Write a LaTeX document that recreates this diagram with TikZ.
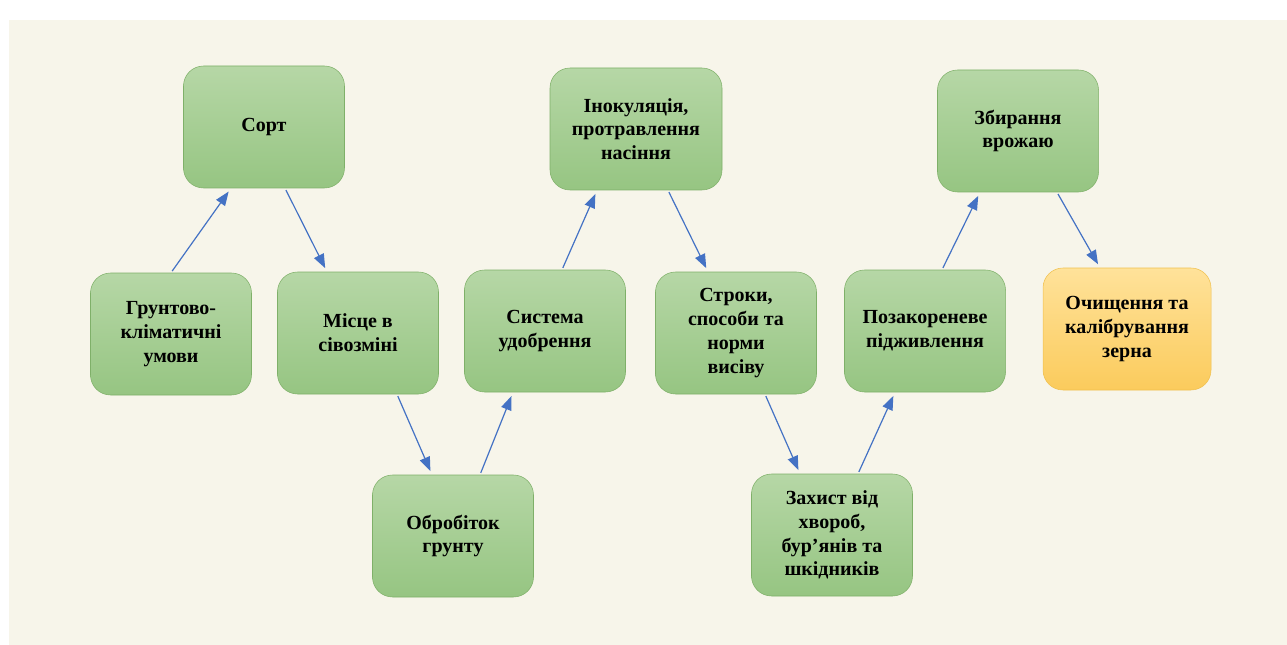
\documentclass[tikz,border=0pt]{standalone}
\usepackage{fontspec}
\setmainfont{Liberation Serif}
\usetikzlibrary{arrows.meta}
\definecolor{bgcream}{HTML}{F7F5EA}
\definecolor{stagetop}{HTML}{B6D7A6}
\definecolor{stagebot}{HTML}{96C582}
\definecolor{stageline}{HTML}{7FB069}
\definecolor{lasttop}{HTML}{FFE29A}
\definecolor{lastbot}{HTML}{FBCB5C}
\definecolor{lastline}{HTML}{F0C04E}
\definecolor{flowblue}{HTML}{4472C4}
\begin{document}
\begin{tikzpicture}[x=0.75pt,y=-0.75pt,
    stage/.style={rounded corners=15pt, draw=stageline, top color=stagetop, bottom color=stagebot,
        minimum height=91.5pt, inner sep=2pt, align=center,
        font=\fontsize{15}{17.8}\selectfont\bfseries},
    flow/.style={draw=flowblue, line width=0.9pt, -{Triangle[length=10.5pt,width=8pt]},
        shorten <=1.5pt, shorten >=3pt}]
\useasboundingbox (0,0) rectangle (1287,645);
\fill[bgcream] (9,20) rectangle (1287,645);
% stages of the technology
\foreach \n/\x/\y/\w/\t in {
    grunt/171/334/120.75/{Грунтово-\\кліматичні\\умови},
    sort/264/127/120.75/{Сорт},
    misce/358/333/120.75/{Місце в\\сівозміні},
    obrob/453/536/120.75/{Обробіток\\грунту},
    syst/545/331/120.75/{Система\\удобрення},
    inok/636/129/129/{Інокуляція,\\протравлення\\насіння},
    stroky/736/333/120.75/{Строки,\\способи та\\норми\\висіву},
    zahyst/832/535/120.75/{Захист від\\хвороб,\\бур’янів та\\шкідників},
    pozak/925/331/120.75/{Позакореневе\\підживлення},
    zbyr/1018/131/120.75/{Збирання\\врожаю}} {
    \node[stage, minimum width=\w pt] (\n) at (\x,\y) {\t};
}
\node[stage, minimum width=126pt, draw=lastline, top color=lasttop, bottom color=lastbot]
    (ochysh) at (1127,329) {Очищення та\\калібрування\\зерна};
% arrows
\foreach \a/\s/\b/\e in {
    grunt.north/0/sort.south/-33,
    sort.south/21/misce.north/-31,
    misce.south/39/obrob.north/-21,
    obrob.north/27/syst.south/-32,
    syst.north/17/inok.south/-39,
    inok.south/32/stroky.north/-28,
    stroky.south/29/zahyst.north/-32,
    zahyst.north/26/pozak.south/-30,
    pozak.north/17/zbyr.south/-38,
    zbyr.south/39/ochysh.north/-27} {
    \draw[flow] ([xshift=\s*0.75pt]\a) -- ([xshift=\e*0.75pt]\b);
}
\end{tikzpicture}
\end{document}
